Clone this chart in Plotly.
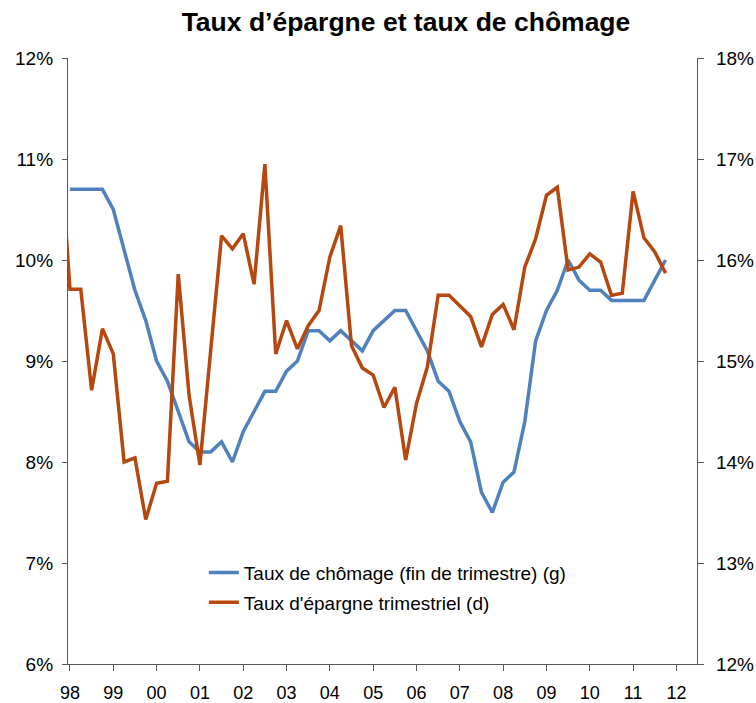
import plotly.graph_objects as go

# Quarterly data, 1998T1 .. 2011T4 (index 0 = 1998T1)
chomage = [
    10.7, 10.7, 10.7, 10.7,   # 98
    10.5, 10.1, 9.7, 9.4,     # 99
    9.0, 8.8, 8.5, 8.2,       # 00
    8.1, 8.1, 8.2, 8.0,       # 01
    8.3, 8.5, 8.7, 8.7,       # 02
    8.9, 9.0, 9.3, 9.3,       # 03
    9.2, 9.3, 9.2, 9.1,       # 04
    9.3, 9.4, 9.5, 9.5,       # 05
    9.3, 9.1, 8.8, 8.7,       # 06
    8.4, 8.2, 7.7, 7.5,       # 07
    7.8, 7.9, 8.4, 9.2,       # 08
    9.5, 9.7, 10.0, 9.8,      # 09
    9.7, 9.7, 9.6, 9.6,       # 10
    9.6, 9.6, 9.8, 10.0,      # 11
]

# Savings rate, 1997T4 .. 2011T4 (first value lies just left of the axis)
epargne = [
    17.3,                        # 97T4
    15.71, 15.71, 14.71, 15.32,  # 98
    15.07, 14.00, 14.04, 13.43,  # 99
    13.79, 13.81, 15.86, 14.66,  # 00
    13.97, 15.11, 16.24, 16.11,  # 01
    16.26, 15.76, 16.95, 15.07,  # 02
    15.40, 15.12, 15.35, 15.50,  # 03
    16.03, 16.34, 15.15, 14.93,  # 04
    14.86, 14.54, 14.74, 14.02,  # 05
    14.58, 14.94, 15.65, 15.65,  # 06
    15.54, 15.44, 15.14, 15.46,  # 07
    15.56, 15.31, 15.93, 16.21,  # 08
    16.64, 16.72, 15.90, 15.93,  # 09
    16.06, 15.98, 15.65, 15.67,  # 10
    16.68, 16.22, 16.08, 15.87,  # 11
]

year_labels = ["98", "99", "00", "01", "02", "03", "04", "05",
               "06", "07", "08", "09", "10", "11", "12"]
left_ticks = [6, 7, 8, 9, 10, 11, 12]
right_ticks = [12, 13, 14, 15, 16, 17, 18]

x_chom = list(range(len(chomage)))
x_epa = list(range(-1, len(epargne) - 1))
year_pos = [4 * i for i in range(len(year_labels))]

BLUE = "#4F81BD"
ORANGE = "#B5470F"
AXIS = "#595959"
FONT = "Liberation Sans, Arial, sans-serif"

fig = go.Figure()
fig.add_trace(go.Scatter(
    x=x_chom, y=chomage, mode="lines",
    name="Taux de chômage (fin de trimestre) (g)",
    line=dict(color=BLUE, width=3.5),
    legendgroup="a",
))
fig.add_trace(go.Scatter(
    x=x_epa, y=epargne, mode="lines", yaxis="y2",
    name="Taux d'épargne trimestriel (d)",
    line=dict(color=ORANGE, width=3.5),
    legendgroup="b",
))

fig.update_layout(
    width=756, height=703,
    margin=dict(l=68, r=59, t=58, b=39, autoexpand=False),
    paper_bgcolor="white", plot_bgcolor="white",
    font=dict(family=FONT, size=19, color="black"),
    title=dict(
        text="<b>Taux d’épargne et taux de chômage</b>",
        x=0.537, xref="container", xanchor="center",
        y=0.969, yref="container", yanchor="middle",
        font=dict(family=FONT, size=26.5, color="black"),
    ),
    xaxis=dict(
        range=[-0.18, 57.9], automargin=False,
        tickmode="array", tickvals=year_pos, ticktext=year_labels,
        showgrid=False, zeroline=False,
        showline=True, linecolor=AXIS, linewidth=1.3,
        ticks="outside", ticklen=6, tickcolor=AXIS, tickwidth=1,
        ticklabelstandoff=6,
        tickfont=dict(size=18),
    ),
    yaxis=dict(
        range=[6, 12], automargin=False,
        tickmode="array", tickvals=left_ticks,
        ticktext=[f"{v}%" for v in left_ticks],
        showgrid=False, zeroline=False,
        showline=True, linecolor=AXIS, linewidth=1.3,
        ticks="outside", ticklen=5, tickcolor=AXIS, tickwidth=1,
        ticklabelstandoff=5,
    ),
    yaxis2=dict(
        range=[12, 18], overlaying="y", side="right", automargin=False,
        tickmode="array", tickvals=right_ticks,
        ticktext=[f"{v}%" for v in right_ticks],
        showgrid=False, zeroline=False,
        showline=True, linecolor=AXIS, linewidth=1.3,
        ticks="outside", ticklen=6, tickcolor=AXIS, tickwidth=1,
        ticklabelstandoff=8,
    ),
    showlegend=True,
    legend=dict(
        x=0.216, y=0.182, xanchor="left", yanchor="top",
        bgcolor="rgba(0,0,0,0)",
        font=dict(family=FONT, size=19, color="black"),
        traceorder="grouped", tracegroupgap=2,
    ),
)

fig.write_html(
    "out.html",
    config={"displayModeBar": False},
    post_script="document.body.style.margin='0';document.body.style.overflow='hidden';",
)
